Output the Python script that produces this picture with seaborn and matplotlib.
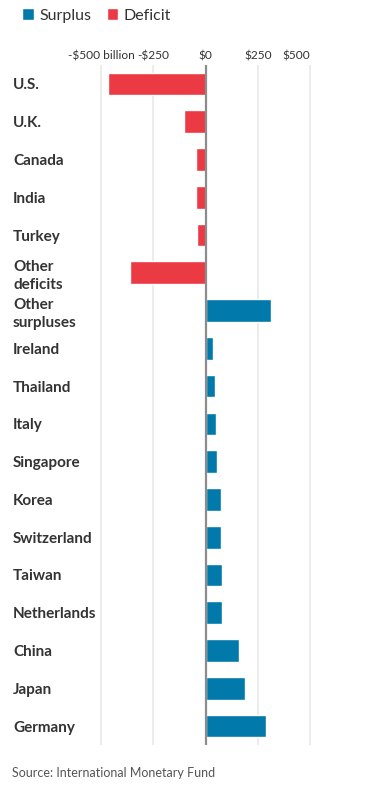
import numpy as np
import pandas as pd
import seaborn as sns
import matplotlib
matplotlib.use('Agg')
import matplotlib.pyplot as plt

# data (billions of dollars)
countries = ['U.S.', 'U.K.', 'Canada', 'India', 'Turkey', 'Other\ndeficits',
             'Other\nsurpluses', 'Ireland', 'Thailand', 'Italy', 'Singapore',
             'Korea', 'Switzerland', 'Taiwan', 'Netherlands', 'China', 'Japan',
             'Germany']
balance = [-466, -102, -47, -47, -42, -362,
           312, 35, 45, 51, 56, 74, 74, 78, 78, 160, 189, 288]
tick_values = [-500, -250, 0, 250, 500]
tick_labels = ['-$500 billion', '-$250', '$0', '$250', '$500']

df = pd.DataFrame({'country': countries, 'balance': balance})
df['kind'] = np.where(df.balance >= 0, 'Surplus', 'Deficit')

sns.set_style('white')
plt.rcParams['font.family'] = ['Lato', 'DejaVu Sans']

W, H = 386, 795
fig = plt.figure(figsize=(W / 100, H / 100), dpi=100)

# axes placement in pixels
x0, x1 = 96.8, 314.2
y_top, y_bot = 65, 745
ax = fig.add_axes([x0 / W, 1 - y_bot / H, (x1 - x0) / W, (y_bot - y_top) / H])

sns.barplot(data=df, y='country', x='balance', hue='kind',
            hue_order=['Surplus', 'Deficit'],
            palette={'Surplus': '#0179ab', 'Deficit': '#ec3a45'},
            orient='h', dodge=False, width=0.6, saturation=1, ax=ax)

ax.set_xlim(-520, 520)
ax.set_ylim(len(countries) - 0.5, -0.5)
ax.set_xlabel('')
ax.set_ylabel('')
for s in ax.spines.values():
    s.set_visible(False)

ax.grid(axis='x', color='#ececec', lw=1.5)
ax.grid(axis='y', visible=False)
ax.set_axisbelow(True)
ax.axvline(0, color='#8c8c8c', lw=1.6, zorder=3)

# top tick labels
ax.xaxis.tick_top()
ax.set_xticks(tick_values)
ax.set_xticklabels(tick_labels)
ax.tick_params(axis='x', length=0, pad=2.5, labelsize=8.6, labelcolor='#333333')
xt = ax.get_xticklabels()
xt[-1].set_ha('right')

# category labels, left aligned at the figure edge
ax.tick_params(axis='y', length=0, pad=(x0 - 13) * 0.72, labelsize=11,
               labelcolor='#333333')
for lab in ax.get_yticklabels():
    lab.set_ha('left')
    lab.set_fontweight('bold')
    lab.set_linespacing(1.35)

sns.move_legend(ax, 'upper left', bbox_to_anchor=(8 / W, 1 + 6 / H),
                bbox_transform=fig.transFigure, ncol=2, title=None,
                frameon=False, handlelength=0.7, handleheight=0.7,
                handletextpad=0.35, columnspacing=1.0, fontsize=11.5,
                labelcolor='#333333')

fig.text(12 / W, 1 - 773 / H, 'Source: International Monetary Fund',
         fontsize=9, color='#555555', va='center', ha='left')

fig.savefig('out.png', dpi=100)
